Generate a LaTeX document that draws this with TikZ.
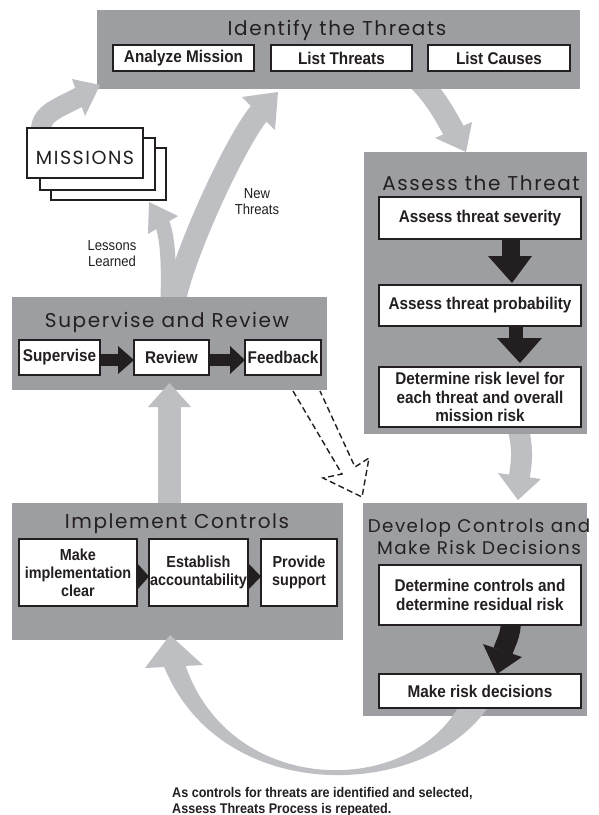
\documentclass[tikz,border=0pt]{standalone}
\usepackage{fontspec}
\setmainfont{Liberation Sans}
\newfontfamily\condfont{Liberation Sans}[FakeStretch=0.9]
\newfontfamily\titlefont{Poppins}[LetterSpace=8]
\usetikzlibrary{fit}

\definecolor{panelgray}{RGB}{157,158,162}
\definecolor{flowgray}{RGB}{190,191,195}
\definecolor{inkblack}{RGB}{35,31,32}

\tikzset{
  panel/.style={fill=panelgray, draw=none, inner sep=0pt, outer sep=0pt},
  stepbox/.style={draw=inkblack, fill=white, line width=1.2pt, inner sep=0pt, outer sep=0pt,
    align=center, text=inkblack, font=\condfont\bfseries\fontsize{17}{18.5}\selectfont},
  smallstep/.style={stepbox, font=\condfont\bfseries\fontsize{16}{18}\selectfont},
  size/.style args={#1x#2}{minimum width=#1pt, minimum height=#2pt},
  missionbox/.style={draw=inkblack, fill=white, line width=1.5pt, inner sep=0pt, outer sep=0pt},
  paneltitle/.style={anchor=base, inner sep=0pt, text=inkblack, font=\titlefont\fontsize{20}{22}\selectfont},
  narrowtitle/.style={paneltitle, font=\titlefont\fontsize{18.3}{20}\selectfont},
  note/.style={inner sep=0pt, align=center, text=inkblack, font=\condfont\fontsize{14.5}{16}\selectfont},
  caption/.style={inner sep=0pt, anchor=base west, text=inkblack, font=\condfont\bfseries\fontsize{14}{16}\selectfont},
  flow/.style={draw=flowgray, line cap=butt},
  flowhead/.style={fill=flowgray},
  blackhead/.style={fill=inkblack},
  dashedflow/.style={draw=inkblack, line width=1.4pt, dash pattern=on 6pt off 3.5pt, line join=miter},
}

\begin{document}
\begin{tikzpicture}[x=1pt,y=-1pt]
\useasboundingbox (0,0) rectangle (598,815);
\fill[white] (0,0) rectangle (598,815);

% ---- shafts of the grey flow arrows (their roots are hidden under the panels)
\draw[flow, line width=20pt] (41,130) .. controls (41,112) and (61,107.5) .. (81,96);
\draw[flow, line width=22pt] (175,300) .. controls (185,250) and (238.5,135.5) .. (261,111);
\draw[flow, line width=15pt] (168,300) .. controls (169,265) and (168,238) .. (162,223);
\draw[flow, line width=22pt] (414,76) .. controls (435,95) and (446,117) .. (455,133);
\draw[flow, line width=21pt] (518,428) .. controls (524,452) and (521,465) .. (519,479);
\draw[flow, line width=23pt] (169,508) -- (169,405);

% ---- panels
\node[panel, fit={(97,10)(580,89)}] (identify) {};
\node[panel, fit={(364,152)(587,434)}] (assess) {};
\node[panel, fit={(12,297)(327,390)}] (supervise) {};
\node[panel, fit={(12,503)(343,640)}] (implement) {};
\node[panel, fit={(363,503)(587,716)}] (develop) {};

\node[paneltitle] (identifyT) at (337,35) {Identify the Threats};
\node[paneltitle] (assessT) at (481,190) {Assess the Threat};
\node[paneltitle] (superviseT) at (167,327) {Supervise and Review};
\node[paneltitle] (implementT) at (177,528) {Implement Controls};
\node[narrowtitle] (developT1) at (479,532) {Develop Controls and};
\node[narrowtitle] (developT2) at (479,554) {Make Risk Decisions};

% ---- grey arrow heads
\fill[flowhead] (72,79) -- (100,85) -- (85,116) -- cycle;
\fill[flowhead] (242,97) -- (278,92) -- (275,130) -- cycle;
\fill[flowhead] (178,216) -- (149,202) -- (148,234) -- cycle;
\fill[flowhead] (435,138) -- (466,152) -- (472,122) -- cycle;
\fill[flowhead] (498,473) -- (518,500) -- (541,479) -- cycle;
\fill[flowhead] (148,407) -- (169.5,383) -- (191,407) -- cycle;

% ---- return loop from the decisions back to implementation
\fill[flowgray] (163,664) .. controls (220,810) and (430,800) .. (490,704)
  -- (460,704) .. controls (410,798) and (230,798) .. (185,664) -- cycle;
\fill[flowhead] (145,668) -- (170,635) -- (203,665) -- cycle;

% ---- black arrows inside the panels
\fill[inkblack] (502,236) rectangle (520,258);
\fill[blackhead] (488,256) -- (512,283) -- (532,256) -- cycle;
\fill[inkblack] (509,323) rectangle (523,340);
\fill[blackhead] (497,338) -- (520,363) -- (542,338) -- cycle;
\draw[draw=inkblack, line width=20pt] (511,620) .. controls (511,635) and (506,642) .. (503,651);
\fill[blackhead] (483,644) -- (497,674) -- (522,657) -- cycle;
\fill[inkblack] (98,354) rectangle (120,366);
\fill[blackhead] (118,346) -- (134,360) -- (118,374) -- cycle;
\fill[inkblack] (207,354) rectangle (232,366);
\fill[blackhead] (230,346) -- (245,360) -- (230,374) -- cycle;

% ---- step boxes
\node[stepbox, size=141x26] (am) at (183.5,58) {Analyze Mission};
\node[stepbox, size=141x26] (lt) at (341.5,58) {List Threats};
\node[stepbox, size=142x26] (lc) at (499,58) {List Causes};

\node[stepbox, size=202x42] (ats) at (480,218) {Assess threat severity};
\node[stepbox, size=202x41] (atp) at (480,305.5) {Assess threat probability};
\node[stepbox, size=202x60] (drl) at (480,397) {Determine risk level for\\each threat and overall\\mission risk};

\node[stepbox, size=81x35] (sup) at (59.5,357.5) {Supervise};
\node[stepbox, size=75x35] (rev) at (171.5,357.5) {Review};
\node[stepbox, size=76x35] (fb) at (283,357.5) {Feedback};

\node[smallstep, size=118x67] (mic) at (78,572.5) {Make\\implementation\\clear};
\node[smallstep, size=99x67] (ea) at (198.5,572.5) {Establish\\accountability};
\node[smallstep, size=76x67] (ps) at (299,572.5) {Provide\\support};

\node[stepbox, size=202x60] (dc) at (480,595) {Determine controls and\\determine residual risk};
\node[stepbox, size=202x34] (mrd) at (480,691) {Make risk decisions};

% ---- small pointers between the implementation steps
\fill[blackhead] (137,563) -- (149,576.5) -- (137,590) -- cycle;
\fill[blackhead] (248,563) -- (261,576.5) -- (248,590) -- cycle;

% ---- dashed feedback arrow
\draw[dashedflow] (293,391) -- (342,474) -- (323,478) -- (362,497) -- (369,458) -- (355,467) -- (320,391);

% ---- stacked mission sheets
\node[missionbox, fit={(51,148)(166,200)}] (m3) {};
\node[missionbox, fit={(40,138)(155,190)}] (m2) {};
\node[missionbox, fit={(27,128)(143,178)}] (m1) {};
\node[anchor=base, inner sep=0pt, text=inkblack, font=\titlefont\fontsize{19}{21}\selectfont] (missions) at (85,164) {MISSIONS};

% ---- labels
\node[note] (newthreats) at (257,202) {New\\Threats};
\node[note] (lessons) at (112,254) {Lessons\\Learned};
\node[caption] (cap1) at (172,797) {As controls for threats are identified and selected,};
\node[caption] (cap2) at (172,813) {Assess Threats Process is repeated.};
\end{tikzpicture}
\end{document}
